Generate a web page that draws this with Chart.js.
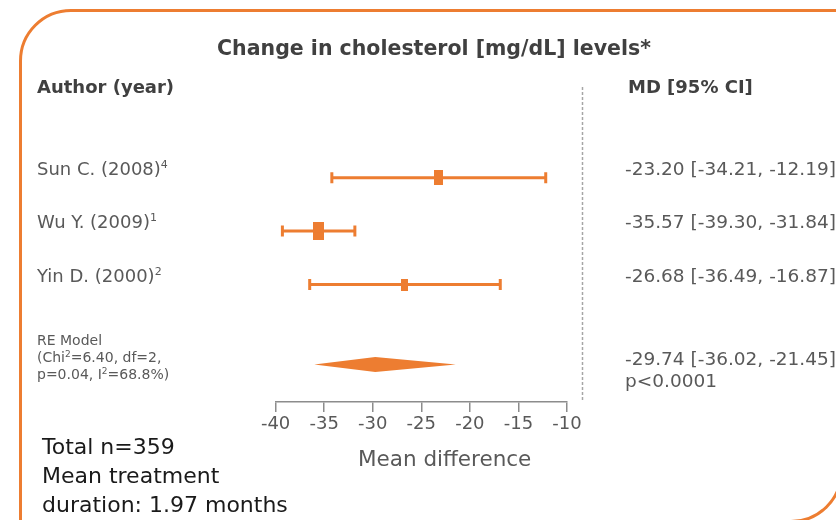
<!DOCTYPE html>
<html>
<head>
<meta charset="utf-8">
<script src="https://cdn.jsdelivr.net/npm/chart.js@4"></script>
<style>
  body { margin: 0; background: #fff; }
  #wrap { position: relative; width: 836px; height: 520px; overflow: hidden; background: #fff;
          font-family: 'DejaVu Sans', sans-serif; color: #595959; }
  #frame { position: absolute; left: 19px; top: 9px; width: 818px; height: 508px;
           border: 3px solid #ED7D31; border-radius: 52px 0 52px 0; }
  #chart { position: absolute; left: 0; top: 0; }
  .txt { position: absolute; white-space: nowrap; }
  .hdr { font-weight: bold; color: #404040; font-size: 18px; }
  .row { font-size: 18px; line-height: 20px; }
  sup { font-size: 11px; vertical-align: 7px; line-height: 0; }
</style>
</head>
<body>
<div id="wrap">
  <div id="frame"></div>
  <canvas id="chart" width="836" height="520"></canvas>
  <div class="txt hdr" style="left:0;width:868px;text-align:center;top:36px;font-size:20.5px">Change in cholesterol [mg/dL] levels*</div>
  <div class="txt hdr" style="left:37px;top:76px">Author (year)</div>
  <div class="txt hdr" style="left:628px;top:76px">MD [95% CI]</div>
  <div class="txt" style="left:37px;top:332px;font-size:14px;line-height:17px">RE Model<br>(Chi<sup style="font-size:9px;vertical-align:5px">2</sup>=6.40, df=2,<br>p=0.04, I<sup style="font-size:9px;vertical-align:5px">2</sup>=68.8%)</div>
  <div class="txt" style="left:42px;top:432px;font-size:22px;line-height:29px;color:#1a1a1a">Total n=359<br>Mean treatment<br>duration: 1.97 months</div>
  <div class="txt" style="left:358px;top:446px;font-size:21.5px;">Mean difference</div>
</div>
<script>
// study data
const studies = ['Sun C. (2008)', 'Wu Y. (2009)', 'Yin D. (2000)'];
const refs = ['4', '1', '2'];
const md = [-23.20, -35.57, -26.68];
const ciLow = [-34.21, -39.30, -36.49];
const ciHigh = [-12.19, -31.84, -16.87];

// pooled (RE model)
const pooledMd = -29.74;
const pooledLow = -36.02;
const pooledHigh = -21.45;
const pooledP = 'p<0.0001';

const xTicks = [-40, -35, -30, -25, -20, -15, -10];

// styling
const ORANGE = '#ED7D31';
const AXIS = '#8c8c8c';
const boxW = [9, 11, 7];
const boxH = [15, 18, 12];
const pooledRow = 3.5;

function box(w, h) {
  const c = document.createElement('canvas');
  c.width = w; c.height = h;
  const g = c.getContext('2d');
  g.fillStyle = ORANGE;
  g.fillRect(0, 0, w, h);
  return c;
}

const datasets = studies.map((s, i) => ({
  label: s,
  data: [{ x: ciLow[i], y: i }, { x: ciHigh[i], y: i }],
  showLine: true,
  borderColor: ORANGE,
  borderWidth: 3,
  pointStyle: 'line',
  rotation: 90,
  pointRadius: 5.5,
  pointBorderWidth: 3,
  pointBorderColor: ORANGE
}));
datasets.push({
  label: 'MD',
  data: md.map((v, i) => ({ x: v, y: i })),
  pointStyle: md.map((v, i) => box(boxW[i], boxH[i])),
  pointRadius: 8
});

const forestExtras = {
  id: 'forestExtras',
  afterDatasetsDraw(chart) {
    const { ctx, scales: { x, y } } = chart;
    // separator
    ctx.save();
    ctx.strokeStyle = '#a6a6a6';
    ctx.lineWidth = 1.5;
    ctx.setLineDash([3, 2]);
    ctx.beginPath();
    ctx.moveTo(582.5, 87);
    ctx.lineTo(582.5, 400);
    ctx.stroke();
    ctx.restore();
    // pooled diamond
    const cy = y.getPixelForValue(pooledRow);
    ctx.save();
    ctx.fillStyle = ORANGE;
    ctx.beginPath();
    ctx.moveTo(x.getPixelForValue(pooledLow), cy);
    ctx.lineTo(x.getPixelForValue(pooledMd), cy - 7.5);
    ctx.lineTo(x.getPixelForValue(pooledHigh), cy);
    ctx.lineTo(x.getPixelForValue(pooledMd), cy + 7.5);
    ctx.closePath();
    ctx.fill();
    ctx.restore();
  }
};

const chart = new Chart(document.getElementById('chart'), {
  type: 'scatter',
  data: { datasets: datasets },
  options: {
    responsive: false,
    animation: false,
    layout: { padding: { left: 275.6, right: 269, top: 124.3, bottom: 78 } },
    plugins: { legend: { display: false }, tooltip: { enabled: false } },
    scales: {
      x: {
        type: 'linear',
        min: -40,
        max: -10,
        afterBuildTicks: (axis) => { axis.ticks = xTicks.map(v => ({ value: v })); },
        afterFit: (axis) => { axis.height = 40; },
        grid: { display: true, drawOnChartArea: false, drawTicks: true, tickLength: 10, color: AXIS, lineWidth: 1.5 },
        border: { display: true, color: AXIS, width: 1.5 },
        ticks: { color: '#595959', font: { family: 'DejaVu Sans', size: 18 }, padding: 2, maxRotation: 0 }
      },
      y: {
        type: 'linear',
        display: false,
        reverse: true,
        min: -1,
        max: 4.2
      }
    }
  },
  plugins: [forestExtras]
});

// row texts aligned to the y scale
const wrap = document.getElementById('wrap');
function addText(html, left, top, extra) {
  const d = document.createElement('div');
  d.className = 'txt row';
  d.style.left = left + 'px';
  d.style.top = top + 'px';
  if (extra) d.style.cssText += extra;
  d.innerHTML = html;
  wrap.appendChild(d);
}
const yScale = chart.scales.y;
studies.forEach((s, i) => {
  const py = yScale.getPixelForValue(i);
  addText(s + '<sup>' + refs[i] + '</sup>', 37, py - 19);
  addText(md[i].toFixed(2) + ' [' + ciLow[i].toFixed(2) + ', ' + ciHigh[i].toFixed(2) + ']', 625, py - 19, 'font-size:18.5px');
});
const pyRe = yScale.getPixelForValue(pooledRow);
addText(pooledMd.toFixed(2) + ' [' + pooledLow.toFixed(2) + ', ' + pooledHigh.toFixed(2) + ']<br>' + pooledP, 625, pyRe - 17, 'line-height:22px;font-size:18.5px');
</script>
</body>
</html>
